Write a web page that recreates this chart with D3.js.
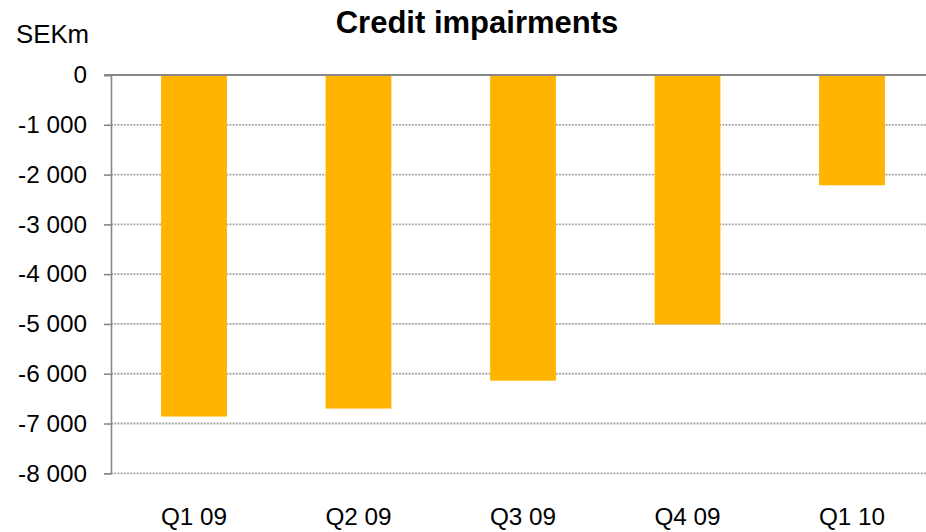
<!DOCTYPE html>
<html>
<head>
<meta charset="utf-8">
<script src="https://cdn.jsdelivr.net/npm/d3@7"></script>
<style>
  html, body { margin: 0; padding: 0; background: #fff; }
  svg { display: block; font-family: "Liberation Sans", Arial, sans-serif; }
</style>
</head>
<body>
<svg id="chart" width="926" height="532"></svg>
<script>
const categories = ["Q1 09", "Q2 09", "Q3 09", "Q4 09", "Q1 10"];
const values = [-6860, -6700, -6140, -5010, -2215];
const yTicks = [0, -1000, -2000, -3000, -4000, -5000, -6000, -7000, -8000];
const title = "Credit impairments";
const unitLabel = "SEKm";

const W = 926, H = 532;
const svg = d3.select("#chart");

const locale = d3.formatLocale({ decimal: ",", thousands: " ", grouping: [3], currency: ["", " SEK"], minus: "-" });
const fmt = locale.format(",d");

const x = d3.scaleBand().domain(categories).range([111.75, 934.25]).paddingInner(0.6).paddingOuter(0.3);
const y = d3.scaleLinear().domain([-8000, 0]).range([473.3, 75]);

// gridlines
svg.append("g").selectAll("line").data(yTicks.filter(d => d !== 0)).join("line")
  .attr("x1", 111).attr("x2", W)
  .attr("y1", d => y(d)).attr("y2", d => y(d))
  .attr("stroke", "#a6a6a6").attr("stroke-width", 1.8).attr("stroke-dasharray", "2,1.2");

// bars
svg.append("g").selectAll("rect").data(values).join("rect")
  .attr("x", (d, i) => x(categories[i]))
  .attr("width", x.bandwidth())
  .attr("y", d => y(0))
  .attr("height", d => y(d) - y(0))
  .attr("fill", "#FFB400");

// y axis
const yAxis = d3.axisLeft(y).tickValues(yTicks).tickFormat(fmt).tickSize(7).tickPadding(17);
const gy = svg.append("g").attr("transform", "translate(111,0)").call(yAxis);
gy.select(".domain").attr("stroke", "#888").attr("stroke-width", 1.6);
gy.selectAll(".tick line").attr("stroke", "#888").attr("stroke-width", 1.6);
gy.selectAll(".tick text").attr("font-size", 24.3).attr("fill", "#000")
  .attr("font-family", "'Liberation Sans', Arial, sans-serif");

// zero line
svg.append("line").attr("x1", 104).attr("x2", W).attr("y1", y(0)).attr("y2", y(0))
  .attr("stroke", "#888").attr("stroke-width", 2);

// x labels
svg.append("g").selectAll("text").data(categories).join("text")
  .attr("x", d => x(d) + x.bandwidth() / 2)
  .attr("y", 525)
  .attr("text-anchor", "middle")
  .attr("font-size", 24.3)
  .text(d => d);

// title
svg.append("text").attr("x", 477).attr("y", 33).attr("text-anchor", "middle")
  .attr("font-size", 31).attr("font-weight", "bold").text(title);

// unit
svg.append("text").attr("x", 16).attr("y", 43).attr("font-size", 25.8).text(unitLabel);
</script>
</body>
</html>
